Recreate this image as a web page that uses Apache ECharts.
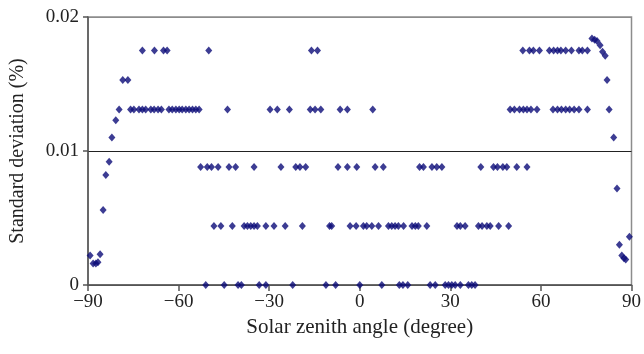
<!DOCTYPE html>
<html><head><meta charset="utf-8">
<script src="https://cdn.jsdelivr.net/npm/echarts@6/dist/echarts.min.js"></script>
<style>html,body{margin:0;padding:0;background:#fff}#c{width:644px;height:354px}</style>
</head><body><div id="c"></div>
<script>
// Levels (standard deviation, %)
var rowX_00175 = [-72, -68, -65, -63.8, -50, -16, -14, 54.0, 56.2, 57.5, 59.5, 62.8, 64.2, 65.5, 66.6, 68.2, 70.1, 72.6, 73.7, 75.4];
var rowX_00131 = [-79.7, -75.9, -74.8, -73.1, -72.0, -70.9, -69.2, -68.1, -66.8, -65.7, -63.2, -62.1, -60.9, -59.8, -58.8, -57.6, -56.5, -55.4, -54.3, -53.2, -43.8,
  -29.7, -27.3, -23.3, -16.4, -14.8, -12.9, -6.5, -4.1, 4.3,
  49.8, 51.2, 52.9, 54.2, 55.4, 56.7, 58.7, 64.0, 65.5, 66.8, 68.2, 69.5, 71.0, 72.6, 75.4];
var rowX_00088 = [-52.7, -50.5, -49.1, -46.9, -43.3, -41.1, -35.0, -26.1, -21.2, -19.8, -17.9, -7.2, -4.1, -1.0,
  5.1, 7.8, 19.8, 21.1, 23.9, 25.5, 27.2, 40.1, 44.3, 45.6, 47.4, 48.7, 52.0, 55.4];
var rowX_00044 = [-48.3, -46.0, -42.2, -38.3, -37.2, -36.1, -35.0, -33.9, -31.1, -28.4, -24.7, -19.0, -10.0, -9.3, -3.2, -1.2,
  1.2, 2.3, 4.0, 6.2, 9.5, 10.6, 11.7, 12.8, 14.5, 17.3, 18.4, 19.4, 22.2, 32.2, 33.3, 34.9, 39.3, 40.5, 42.1, 43.2, 46.0, 49.3];
var rowX_0 = [-51.0, -44.9, -40.3, -39.2, -33.3, -31.1, -22.2, -11.2, -8.0, 0.0, 7.3, 13.1, 14.3, 15.9, 23.3, 25.0, 28.3, 29.4, 30.5, 31.6, 33.3, 36.0, 37.1, 38.2];
// Edge points (angle, value)
var edgeX = [-89.3, -88.3, -87.4, -86.7, -86.0, -85.0, -84.1, -83.0, -82.1, -80.8, -78.5, -76.8,
  76.9, 77.8, 78.6, 79.6, 80.4, 81.3, 81.9, 82.6, 84.1, 85.2, 86.0, 86.8, 87.5, 88.1, 89.3];
var edgeY = [0.0022, 0.0016, 0.0016, 0.0017, 0.0023, 0.0056, 0.0082, 0.0092, 0.0110, 0.0123, 0.0153, 0.0153,
  0.0184, 0.0183, 0.0182, 0.0179, 0.0174, 0.0171, 0.0153, 0.0131, 0.0110, 0.0072, 0.0030, 0.0022, 0.0020, 0.0019, 0.0036];
var xTicks = [-90, -60, -30, 0, 30, 60, 90];
var yTicks = [0, 0.01, 0.02];

var data = [];
function addRow(xs, v){ xs.forEach(function(x){ data.push([x, v]); }); }
addRow(rowX_00175, 0.0175);
addRow(rowX_00131, 0.0131);
addRow(rowX_00088, 0.0088);
addRow(rowX_00044, 0.0044);
addRow(rowX_0, 0);
edgeX.forEach(function(x, i){ data.push([x, edgeY[i]]); });

var font = 'Liberation Serif';
var chart = echarts.init(document.getElementById('c'), null, {renderer: 'canvas'});
chart.setOption({
  animation: false,
  backgroundColor: '#fff',
  grid: {left: 88, right: 12, top: 17, bottom: 69, show: true, borderColor: '#8c8c8c', borderWidth: 1.5},
  xAxis: {
    type: 'value', min: xTicks[0], max: xTicks[xTicks.length - 1], interval: 30,
    name: 'Solar zenith angle (degree)', nameLocation: 'middle', nameGap: 31,
    nameTextStyle: {fontFamily: font, fontSize: 21, color: '#222'},
    axisLine: {show: true, onZero: false, lineStyle: {color: '#555', width: 1.5}},
    axisTick: {show: true, inside: false, length: 6, lineStyle: {color: '#555', width: 1.5}},
    axisLabel: {fontFamily: font, fontSize: 19, color: '#222', margin: 8,
      formatter: function(v){ return String(v).replace('-', '\u2212'); }},
    splitLine: {show: false}
  },
  yAxis: {
    type: 'value', min: yTicks[0], max: yTicks[yTicks.length - 1], interval: 0.01,
    name: 'Standard deviation (%)', nameLocation: 'middle', nameGap: 60,
    nameTextStyle: {fontFamily: font, fontSize: 20, color: '#222'},
    axisLine: {show: true, onZero: false, lineStyle: {color: '#555', width: 1.5}},
    axisTick: {show: true, inside: false, length: 5, lineStyle: {color: '#555', width: 1.5}},
    axisLabel: {fontFamily: font, fontSize: 19, color: '#222', margin: 9,
      formatter: function(v){ return v === 0 ? '0' : v.toFixed(2); }},
    splitLine: {show: true, lineStyle: {color: ['#555', '#222', '#8c8c8c'], width: 1.2}}
  },
  series: [{
    type: 'scatter', data: data, symbol: 'diamond', symbolSize: [7, 8],
    itemStyle: {color: '#0b0b78'}
  }]
});
</script></body></html>
